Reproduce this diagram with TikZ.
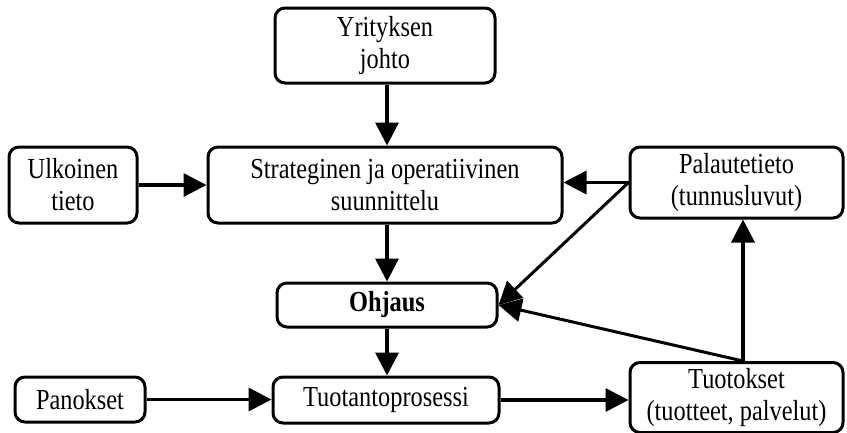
\documentclass[tikz,border=0pt]{standalone}
\usepackage{fontspec}
\setmainfont[FakeStretch=0.84]{Liberation Serif}
\usetikzlibrary{arrows.meta}
\begin{document}
\begin{tikzpicture}[x=1pt,y=-1pt,
  box/.style={draw, line width=3pt, rounded corners=10pt, inner sep=0pt,
    align=center, font=\fontsize{29}{32}\selectfont},
  flow/.style={line width=3.6pt, -{Triangle[length=23pt,width=23pt]}},
  thin flow/.style={line width=3pt, -{Triangle[length=23pt,width=23pt]}}]
\useasboundingbox (0,0) rectangle (847,432);

% boxes
\node[box, minimum width=220pt, minimum height=75pt] (yj) at (385,45.5) {Yrityksen\\johto};
\node[box, minimum width=128pt, minimum height=76pt] (ut) at (73,185) {Ulkoinen\\tieto};
\node[box, minimum width=354pt, minimum height=76pt] (su) at (385,185) {Strateginen ja operatiivinen\\suunnittelu};
\node[box, minimum width=213pt, minimum height=71pt] (pt) at (736.5,182.5) {Palautetieto\\(tunnusluvut)};
\node[box, minimum width=220pt, minimum height=44pt] (oh) at (387,305) {\bfseries Ohjaus};
\node[box, minimum width=130pt, minimum height=45pt] (pa) at (80,399.5) {Panokset};
\node[box, minimum width=226pt, minimum height=46pt] (tp) at (386,400) {Tuotantoprosessi};
\node[box, minimum width=213pt, minimum height=70pt] (to) at (736.5,397.5) {Tuotokset\\(tuotteet, palvelut)};

% attachment points
\coordinate (toTop) at ([xshift=6.5pt]to.north);
\coordinate (ptBot) at ([xshift=6.5pt]pt.south);

% connectors
\draw[flow] (yj.south -| 387,0) -- (su.north -| 387,0);
\draw[flow] (ut.east) -- (su.west);
\draw[flow] (pt.west) -- (su.east |- pt.west);
\draw[thin flow] (pt.west) -- (oh.east);
\draw[flow] (su.south -| 387,0) -- (oh.north);
\draw[flow] (oh.south) -- (tp.north -| oh.south);
\draw[flow] (pa.east) -- (tp.west |- pa.east);
\draw[flow] (tp.east) -- (to.west |- tp.east);
\draw[flow] (toTop) -- (ptBot);
\draw[thin flow] (toTop) -- (oh.east);
\end{tikzpicture}
\end{document}
